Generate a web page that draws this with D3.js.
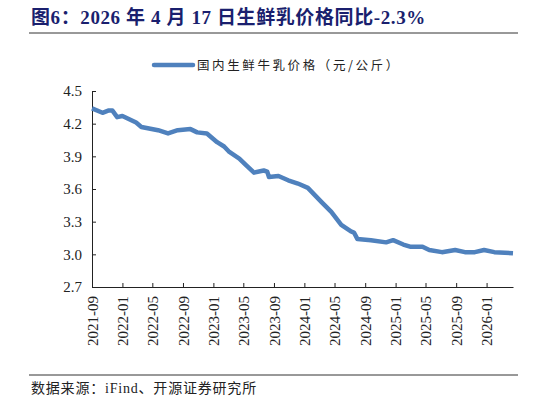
<!DOCTYPE html>
<meta charset="utf-8">
<script src="https://d3js.org/d3.v7.min.js"></script>
<body style="margin:0;background:#fff">
<div id="chart"></div>
<script>
// price series
var dates = ["2021-09-01","2021-10-13","2021-11-05","2021-11-22","2021-12-11","2022-01-01","2022-02-25","2022-03-18",
  "2022-05-24","2022-07-03","2022-08-11","2022-10-01","2022-10-28","2022-12-06","2023-01-16","2023-02-13",
  "2023-03-06","2023-04-15","2023-05-12","2023-06-13","2023-07-22","2023-08-05","2023-08-12","2023-09-19",
  "2023-10-28","2023-12-06","2024-01-15","2024-03-10","2024-04-18","2024-05-28","2024-07-06","2024-07-18",
  "2024-08-01","2024-09-24","2024-11-24","2024-12-22","2025-02-01","2025-02-28","2025-04-19","2025-05-16",
  "2025-07-06","2025-08-28","2025-10-06","2025-11-15","2025-12-22","2026-02-01","2026-04-17"];
var prices = [4.34,4.30,4.32,4.32,4.26,4.27,4.21,4.17,
  4.14,4.11,4.14,4.15,4.12,4.11,4.03,3.99,
  3.94,3.88,3.82,3.75,3.77,3.76,3.71,3.72,
  3.68,3.65,3.61,3.48,3.39,3.27,3.21,3.20,
  3.14,3.13,3.11,3.13,3.09,3.07,3.07,3.04,
  3.02,3.04,3.02,3.02,3.04,3.02,3.01];
var yTicks = [2.7,3.0,3.3,3.6,3.9,4.2,4.5];
var xTicks = ["2021-09","2022-01","2022-05","2022-09","2023-01","2023-05","2023-09","2024-01",
  "2024-05","2024-09","2025-01","2025-05","2025-09","2026-01"];

var parse = d3.timeParse("%Y-%m-%d"), parseM = d3.timeParse("%Y-%m");
var data = dates.map(function(d, i){ return {date: parse(d), value: prices[i]}; });

var svg = d3.select("#chart").append("svg").attr("width", 546).attr("height", 407);

// title + rules
svg.append("text").attr("x", 31).attr("y", 24).text("图6：2026 年 4 月 17 日生鲜乳价格同比-2.3%")
  .style("font-family", "'Liberation Serif','Noto Sans CJK SC',serif").style("font-weight", "bold")
  .style("font-size", "19px").style("letter-spacing", "0.6px").attr("fill", "#1a1f6e");
svg.append("line").attr("x1", 29).attr("x2", 518).attr("y1", 33).attr("y2", 33).attr("stroke", "#333").attr("stroke-width", 1);
svg.append("line").attr("x1", 29).attr("x2", 518).attr("y1", 375).attr("y2", 375).attr("stroke", "#333").attr("stroke-width", 1);
svg.append("text").attr("x", 31).attr("y", 393).text("数据来源：iFind、开源证券研究所")
  .style("font-family", "'Liberation Serif','Noto Sans CJK SC',serif").style("font-size", "14px")
  .style("letter-spacing", "0.8px").attr("fill", "#222");

// legend
svg.append("line").attr("x1", 154).attr("x2", 193).attr("y1", 65).attr("y2", 65)
  .attr("stroke", "#4f81bd").attr("stroke-width", 4.5).attr("stroke-linecap", "round");
svg.append("text").attr("x", 197).attr("y", 70).text("国内生鲜牛乳价格（元/公斤）")
  .style("font-family", "'Noto Sans CJK SC',sans-serif").style("font-size", "12.5px")
  .style("letter-spacing", "2.6px").attr("fill", "#222");

var x = d3.scaleTime().domain([parseM("2021-09"), parse("2026-04-17")]).range([92, 513]);
var y = d3.scaleLinear().domain([2.7, 4.5]).range([287, 91]);

var yAxis = svg.append("g").attr("transform", "translate(92,0)")
  .call(d3.axisLeft(y).tickValues(yTicks).tickFormat(d3.format(".1f")).tickSizeInner(-4).tickSizeOuter(0).tickPadding(10));
var xAxis = svg.append("g").attr("transform", "translate(0,287)")
  .call(d3.axisBottom(x).tickValues(xTicks.map(parseM)).tickFormat(d3.timeFormat("%Y-%m")).tickSizeInner(-4).tickSizeOuter(0));
xAxis.selectAll("text").attr("transform", "rotate(-90)").attr("text-anchor", "end")
  .attr("x", -9).attr("y", 0).attr("dy", "0.35em");
[yAxis, xAxis].forEach(function(a){
  a.selectAll("text").style("font-family", "'Liberation Serif',serif").style("font-size", "15px").attr("fill", "#222");
  a.selectAll("path,line").attr("stroke", "#222");
});

svg.append("path").datum(data)
  .attr("fill", "none").attr("stroke", "#4f81bd").attr("stroke-width", 4.5).attr("stroke-linejoin", "round")
  .attr("d", d3.line().x(function(d){ return x(d.date); }).y(function(d){ return y(d.value); }));
</script>
</body>
